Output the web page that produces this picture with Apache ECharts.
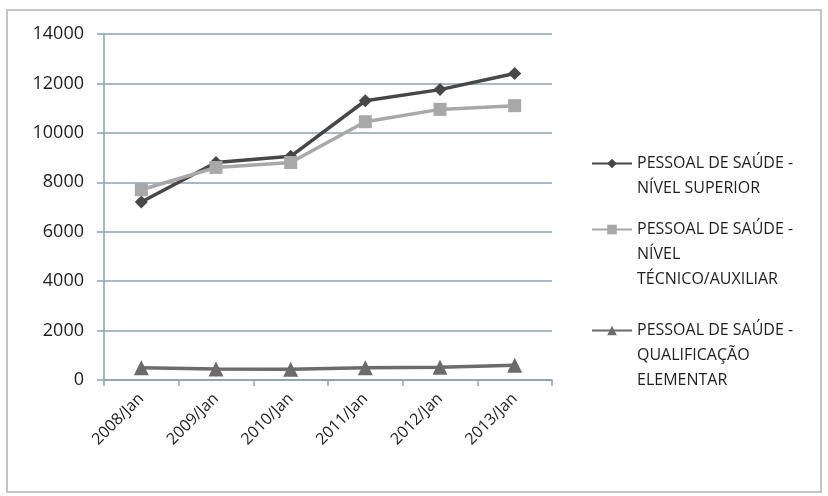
<!DOCTYPE html>
<html>
<head>
<meta charset="utf-8">
<script src="https://cdn.jsdelivr.net/npm/echarts@6/dist/echarts.min.js"></script>
<style>
  html, body { margin: 0; padding: 0; background: #fff; }
  #chart { width: 828px; height: 496px; }
</style>
</head>
<body>
<div id="chart"></div>
<script>
// categorias (eixo x)
var anos = ['2008/Jan', '2009/Jan', '2010/Jan', '2011/Jan', '2012/Jan', '2013/Jan'];

// nomes das series
var nomeSuperior = 'PESSOAL DE SAÚDE -\nNÍVEL SUPERIOR';
var nomeTecnico = 'PESSOAL DE SAÚDE -\nNÍVEL\nTÉCNICO/AUXILIAR';
var nomeElementar = 'PESSOAL DE SAÚDE -\nQUALIFICAÇÃO\nELEMENTAR';

// valores
var nivelSuperior = [7200, 8800, 9050, 11300, 11750, 12400];
var nivelTecnico = [7700, 8600, 8800, 10450, 10950, 11100];
var qualifElementar = [500, 450, 430, 500, 520, 600];

var corGrade = '#8aa3b5';
var corTexto = '#1e1e1e';
var fonte = '"Open Sans", "Liberation Sans", sans-serif';
var alturaLinha = 25;

// o icone fica na primeira linha: linhas vazias por cima centram o bloco
var legenda = function (nome, linhas, topo) {
    return {
        data: [nome],
        orient: 'vertical',
        left: 586,
        top: topo,
        itemWidth: 40,
        itemHeight: 12,
        itemGap: 0,
        formatter: function (n) {
            return new Array(linhas).join('\n') + n;
        },
        textStyle: {
            fontFamily: fonte,
            fontSize: 16,
            color: corTexto,
            lineHeight: alturaLinha
        }
    };
};

var chart = echarts.init(document.getElementById('chart'));
var option = {
    animation: false,
    backgroundColor: '#fff',
    graphic: [{
        type: 'rect',
        shape: { x: 7, y: 10, width: 814, height: 482 },
        style: { fill: 'none', stroke: '#c4c4c4', lineWidth: 2 }
    }],
    legend: [
        legenda(nomeSuperior, 2, 121),
        legenda(nomeTecnico, 3, 162),
        legenda(nomeElementar, 3, 263)
    ],
    grid: { left: 104, right: 276, top: 34, bottom: 116 },
    xAxis: {
        type: 'category',
        data: anos,
        boundaryGap: true,
        axisLine: { lineStyle: { color: corGrade, width: 1.5 } },
        axisTick: { show: true, length: 6, lineStyle: { color: corGrade, width: 1.5 } },
        axisLabel: {
            rotate: 45,
            margin: 16,
            fontFamily: fonte,
            fontSize: 16,
            color: corTexto
        }
    },
    yAxis: {
        type: 'value',
        min: 0,
        max: 14000,
        interval: 2000,
        axisLine: { show: true, lineStyle: { color: corGrade, width: 1.5 } },
        axisTick: { show: true, length: 7, lineStyle: { color: corGrade, width: 1.5 } },
        splitLine: { lineStyle: { color: corGrade, width: 1.5 } },
        axisLabel: {
            margin: 20,
            fontFamily: fonte,
            fontSize: 18,
            color: corTexto,
            formatter: function (v) { return String(v); }
        }
    },
    series: [
        {
            name: nomeSuperior,
            type: 'line',
            data: nivelSuperior,
            symbol: 'diamond',
            symbolSize: 13,
            itemStyle: { color: '#474747' },
            lineStyle: { color: '#474747', width: 3.5 }
        },
        {
            name: nomeTecnico,
            type: 'line',
            data: nivelTecnico,
            symbol: 'rect',
            symbolSize: 13,
            itemStyle: { color: '#a8a8a8' },
            lineStyle: { color: '#a8a8a8', width: 3.5 }
        },
        {
            name: nomeElementar,
            type: 'line',
            data: qualifElementar,
            symbol: 'triangle',
            symbolSize: 15,
            itemStyle: { color: '#6b6b6b' },
            lineStyle: { color: '#6b6b6b', width: 3.5 }
        }
    ]
};
chart.setOption(option);
</script>
</body>
</html>
